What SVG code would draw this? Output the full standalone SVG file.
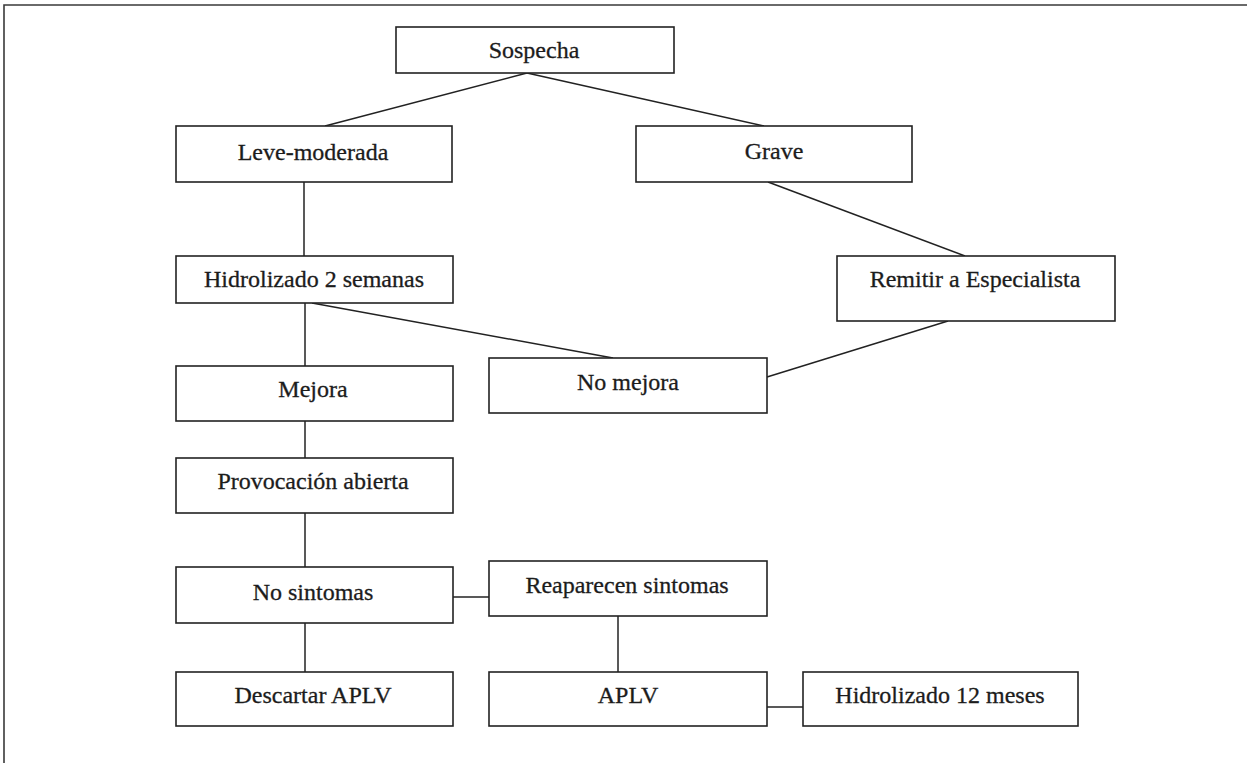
<svg xmlns="http://www.w3.org/2000/svg" width="1247" height="763" viewBox="0 0 1247 763">
  <style>
    .box { fill: #ffffff; stroke: #222222; stroke-width: 1.6; }
    .lbl { font-family: "Liberation Serif", "Times New Roman", serif; font-size: 24px; fill: #1c1c1c; stroke: #1c1c1c; stroke-width: 0.3; text-anchor: middle; }
    .edge { fill: none; stroke: #222222; stroke-width: 1.5; }
    .frame { fill: none; stroke: #3a3a3a; stroke-width: 1.6; }
  </style>
  <rect x="0" y="0" width="1247" height="763" fill="#ffffff"/>

  <!-- page frame (top and left edges only) -->
  <path class="frame" d="M4,763 V5 H1247"/>

  <!-- connectors -->
  <g id="connectors">
    <line class="edge" x1="527" y1="73" x2="325" y2="126"/>
    <line class="edge" x1="527" y1="73" x2="764" y2="126"/>
    <line class="edge" x1="304" y1="182" x2="304" y2="256"/>
    <line class="edge" x1="305" y1="303" x2="305" y2="366"/>
    <line class="edge" x1="312" y1="303" x2="613" y2="358"/>
    <line class="edge" x1="768" y1="182" x2="965" y2="256"/>
    <line class="edge" x1="948" y1="321" x2="767" y2="377"/>
    <line class="edge" x1="305" y1="421" x2="305" y2="458"/>
    <line class="edge" x1="305" y1="513" x2="305" y2="567"/>
    <line class="edge" x1="305" y1="617" x2="305" y2="672"/>
    <line class="edge" x1="453" y1="597" x2="489" y2="597"/>
    <line class="edge" x1="618" y1="616" x2="618" y2="672"/>
    <line class="edge" x1="767" y1="707" x2="803" y2="707"/>
  </g>

  <g id="sospecha">
    <rect class="box" x="396" y="27" width="278" height="46"/>
    <text class="lbl" x="534" y="58">Sospecha</text>
  </g>
  <g id="leve-moderada">
    <rect class="box" x="176" y="126" width="276" height="56"/>
    <text class="lbl" x="313" y="160">Leve-moderada</text>
  </g>
  <g id="grave">
    <rect class="box" x="636" y="126" width="276" height="56"/>
    <text class="lbl" x="774" y="159">Grave</text>
  </g>
  <g id="hidrolizado-2">
    <rect class="box" x="176" y="256" width="277" height="47"/>
    <text class="lbl" x="314" y="287">Hidrolizado 2 semanas</text>
  </g>
  <g id="remitir">
    <rect class="box" x="837" y="256" width="278" height="65"/>
    <text class="lbl" x="975" y="287">Remitir a Especialista</text>
  </g>
  <g id="mejora">
    <rect class="box" x="176" y="366" width="277" height="55"/>
    <text class="lbl" x="313" y="397">Mejora</text>
  </g>
  <g id="no-mejora">
    <rect class="box" x="489" y="358" width="278" height="55"/>
    <text class="lbl" x="628" y="390">No mejora</text>
  </g>
  <g id="provocacion">
    <rect class="box" x="176" y="458" width="277" height="55"/>
    <text class="lbl" x="313" y="489">Provocación abierta</text>
  </g>
  <g id="no-sintomas">
    <rect class="box" x="176" y="567" width="277" height="56"/>
    <text class="lbl" x="313" y="600">No sintomas</text>
  </g>
  <g id="reaparecen">
    <rect class="box" x="489" y="561" width="278" height="55"/>
    <text class="lbl" x="627" y="593">Reaparecen sintomas</text>
  </g>
  <g id="descartar">
    <rect class="box" x="176" y="672" width="277" height="54"/>
    <text class="lbl" x="313" y="703">Descartar APLV</text>
  </g>
  <g id="aplv">
    <rect class="box" x="489" y="672" width="278" height="54"/>
    <text class="lbl" x="628" y="703">APLV</text>
  </g>
  <g id="hidrolizado-12">
    <rect class="box" x="803" y="672" width="275" height="54"/>
    <text class="lbl" x="940" y="703">Hidrolizado 12 meses</text>
  </g>
</svg>
